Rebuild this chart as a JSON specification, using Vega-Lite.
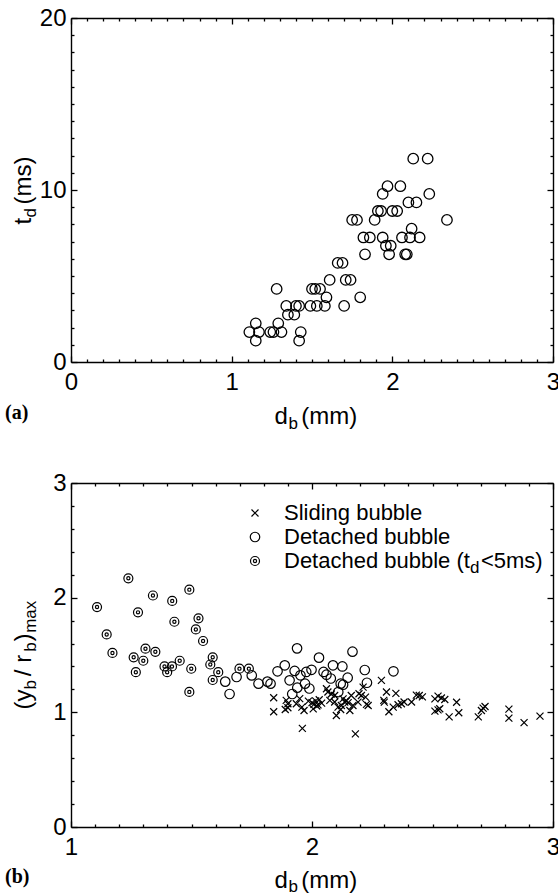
{
  "$schema": "https://vega.github.io/schema/vega-lite/v6.json",
  "padding": {"left": 5, "top": 6, "right": 0, "bottom": 0},
  "background": "white",
  "spacing": 40,
  "config": {
    "view": {"stroke": null},
    "font": "Liberation Sans",
    "axis": {
      "domainColor": "black", "domainWidth": 1.4, "tickColor": "black", "tickWidth": 1.3,
      "labelColor": "black", "titleColor": "black", "labelFont": "Liberation Sans", "titleFont": "Liberation Sans",
      "labelFontSize": 24, "titleFontSize": 24, "titleFontWeight": "normal", "grid": false,
      "labelOverlap": false, "labelFlush": false, "format": "d"
    }
  },
  "datasets": {
    "a": [
      {"db":1.11,"td":1.74},{"db":1.15,"td":2.25},{"db":1.17,"td":1.74},{"db":1.15,"td":1.24},{"db":1.24,"td":1.74},
      {"db":1.26,"td":1.74},{"db":1.31,"td":1.74},{"db":1.29,"td":2.25},{"db":1.28,"td":4.25},{"db":1.43,"td":1.74},
      {"db":1.42,"td":1.24},{"db":1.34,"td":3.26},{"db":1.40,"td":3.26},{"db":1.42,"td":3.26},{"db":1.35,"td":2.75},
      {"db":1.39,"td":2.75},{"db":1.49,"td":3.26},{"db":1.53,"td":3.26},{"db":1.58,"td":3.26},{"db":1.59,"td":3.76},
      {"db":1.50,"td":4.25},{"db":1.52,"td":4.25},{"db":1.55,"td":4.25},{"db":1.61,"td":4.77},{"db":1.70,"td":3.26},
      {"db":1.71,"td":4.77},{"db":1.74,"td":4.77},{"db":1.66,"td":5.76},{"db":1.69,"td":5.76},{"db":1.75,"td":8.26},
      {"db":1.78,"td":8.26},{"db":1.80,"td":3.76},{"db":1.82,"td":7.24},{"db":1.86,"td":7.24},{"db":1.83,"td":6.26},
      {"db":1.89,"td":8.26},{"db":1.91,"td":8.78},{"db":1.93,"td":8.78},{"db":1.94,"td":9.77},{"db":1.97,"td":10.22},
      {"db":1.94,"td":7.24},{"db":1.96,"td":6.76},{"db":1.99,"td":6.76},{"db":1.98,"td":6.26},{"db":2.00,"td":8.78},
      {"db":2.03,"td":8.78},{"db":2.05,"td":10.22},{"db":2.06,"td":7.24},{"db":2.08,"td":6.26},{"db":2.09,"td":6.26},
      {"db":2.10,"td":9.28},{"db":2.15,"td":9.28},{"db":2.12,"td":7.75},{"db":2.11,"td":7.24},{"db":2.17,"td":7.24},
      {"db":2.13,"td":11.82},{"db":2.22,"td":11.82},{"db":2.23,"td":9.77},{"db":2.34,"td":8.26}
    ],
    "b": [
      {"db":1.108,"yr":1.918,"type":"d5"},{"db":1.148,"yr":1.679,"type":"d5"},{"db":1.172,"yr":1.518,"type":"d5"},
      {"db":1.238,"yr":2.169,"type":"d5"},{"db":1.260,"yr":1.480,"type":"d5"},{"db":1.269,"yr":1.350,"type":"d5"},
      {"db":1.278,"yr":1.872,"type":"d5"},{"db":1.300,"yr":1.450,"type":"d5"},{"db":1.309,"yr":1.555,"type":"d5"},
      {"db":1.340,"yr":2.019,"type":"d5"},{"db":1.350,"yr":1.528,"type":"d5"},{"db":1.388,"yr":1.400,"type":"d5"},
      {"db":1.399,"yr":1.350,"type":"d5"},{"db":1.419,"yr":1.400,"type":"d5"},{"db":1.420,"yr":1.972,"type":"d5"},
      {"db":1.429,"yr":1.790,"type":"d5"},{"db":1.451,"yr":1.450,"type":"d5"},{"db":1.491,"yr":2.070,"type":"d5"},
      {"db":1.491,"yr":1.178,"type":"d5"},{"db":1.499,"yr":1.380,"type":"d5"},{"db":1.529,"yr":1.820,"type":"d5"},
      {"db":1.518,"yr":1.723,"type":"d5"},{"db":1.548,"yr":1.622,"type":"d5"},{"db":1.578,"yr":1.417,"type":"d5"},
      {"db":1.588,"yr":1.480,"type":"d5"},{"db":1.588,"yr":1.282,"type":"d5"},{"db":1.611,"yr":1.350,"type":"d5"},
      {"db":1.699,"yr":1.381,"type":"d5"},{"db":1.738,"yr":1.381,"type":"d5"},
      {"db":1.640,"yr":1.268,"type":"det"},{"db":1.658,"yr":1.160,"type":"det"},{"db":1.687,"yr":1.308,"type":"det"},
      {"db":1.750,"yr":1.322,"type":"det"},{"db":1.778,"yr":1.250,"type":"det"},{"db":1.815,"yr":1.268,"type":"det"},
      {"db":1.828,"yr":1.250,"type":"det"},{"db":1.857,"yr":1.358,"type":"det"},{"db":1.887,"yr":1.410,"type":"det"},
      {"db":1.907,"yr":1.279,"type":"det"},{"db":1.918,"yr":1.160,"type":"det"},{"db":1.928,"yr":1.361,"type":"det"},
      {"db":1.938,"yr":1.558,"type":"det"},{"db":1.939,"yr":1.215,"type":"det"},{"db":1.952,"yr":1.323,"type":"det"},
      {"db":1.971,"yr":1.250,"type":"det"},{"db":1.976,"yr":1.352,"type":"det"},{"db":1.989,"yr":1.208,"type":"det"},
      {"db":1.998,"yr":1.371,"type":"det"},{"db":2.029,"yr":1.477,"type":"det"},{"db":2.048,"yr":1.352,"type":"det"},
      {"db":2.060,"yr":1.328,"type":"det"},{"db":2.078,"yr":1.295,"type":"det"},{"db":2.087,"yr":1.410,"type":"det"},
      {"db":2.109,"yr":1.177,"type":"det"},{"db":2.119,"yr":1.250,"type":"det"},{"db":2.126,"yr":1.400,"type":"det"},
      {"db":2.129,"yr":1.241,"type":"det"},{"db":2.148,"yr":1.302,"type":"det"},{"db":2.168,"yr":1.529,"type":"det"},
      {"db":2.219,"yr":1.369,"type":"det"},{"db":2.228,"yr":1.258,"type":"det"},{"db":2.338,"yr":1.358,"type":"det"},
      {"db":1.841,"yr":1.127,"type":"sl"},{"db":1.841,"yr":1.005,"type":"sl"},{"db":1.893,"yr":1.104,"type":"sl"},
      {"db":1.900,"yr":1.075,"type":"sl"},{"db":1.889,"yr":1.025,"type":"sl"},{"db":1.900,"yr":1.040,"type":"sl"},
      {"db":1.935,"yr":1.075,"type":"sl"},{"db":1.949,"yr":1.119,"type":"sl"},{"db":1.958,"yr":1.046,"type":"sl"},
      {"db":1.967,"yr":1.016,"type":"sl"},{"db":1.960,"yr":0.860,"type":"sl"},{"db":1.985,"yr":1.098,"type":"sl"},
      {"db":2.000,"yr":1.085,"type":"sl"},{"db":2.008,"yr":1.070,"type":"sl"},{"db":2.015,"yr":1.100,"type":"sl"},
      {"db":2.020,"yr":1.055,"type":"sl"},{"db":2.005,"yr":1.030,"type":"sl"},{"db":2.030,"yr":1.110,"type":"sl"},
      {"db":2.040,"yr":1.080,"type":"sl"},{"db":2.025,"yr":1.065,"type":"sl"},{"db":2.060,"yr":1.206,"type":"sl"},
      {"db":2.066,"yr":1.177,"type":"sl"},{"db":2.074,"yr":1.104,"type":"sl"},{"db":2.080,"yr":1.160,"type":"sl"},
      {"db":2.094,"yr":1.090,"type":"sl"},{"db":2.101,"yr":0.972,"type":"sl"},{"db":2.108,"yr":1.046,"type":"sl"},
      {"db":2.094,"yr":1.147,"type":"sl"},{"db":2.122,"yr":1.060,"type":"sl"},{"db":2.129,"yr":1.118,"type":"sl"},
      {"db":2.136,"yr":1.090,"type":"sl"},{"db":2.143,"yr":1.100,"type":"sl"},{"db":2.150,"yr":1.085,"type":"sl"},
      {"db":2.157,"yr":1.016,"type":"sl"},{"db":2.163,"yr":1.147,"type":"sl"},{"db":2.170,"yr":1.060,"type":"sl"},
      {"db":2.119,"yr":1.025,"type":"sl"},{"db":2.180,"yr":0.812,"type":"sl"},{"db":2.191,"yr":1.089,"type":"sl"},
      {"db":2.195,"yr":1.162,"type":"sl"},{"db":2.205,"yr":1.147,"type":"sl"},{"db":2.212,"yr":1.220,"type":"sl"},
      {"db":2.222,"yr":1.133,"type":"sl"},{"db":2.226,"yr":1.069,"type":"sl"},{"db":2.233,"yr":1.060,"type":"sl"},
      {"db":2.288,"yr":1.279,"type":"sl"},{"db":2.298,"yr":1.104,"type":"sl"},{"db":2.300,"yr":1.089,"type":"sl"},
      {"db":2.309,"yr":1.177,"type":"sl"},{"db":2.319,"yr":1.005,"type":"sl"},{"db":2.337,"yr":1.046,"type":"sl"},
      {"db":2.348,"yr":1.165,"type":"sl"},{"db":2.357,"yr":1.066,"type":"sl"},{"db":2.371,"yr":1.075,"type":"sl"},
      {"db":2.382,"yr":1.090,"type":"sl"},{"db":2.413,"yr":1.090,"type":"sl"},{"db":2.433,"yr":1.150,"type":"sl"},
      {"db":2.445,"yr":1.147,"type":"sl"},{"db":2.458,"yr":1.135,"type":"sl"},{"db":2.510,"yr":1.118,"type":"sl"},
      {"db":2.523,"yr":1.142,"type":"sl"},{"db":2.537,"yr":1.125,"type":"sl"},{"db":2.551,"yr":1.112,"type":"sl"},
      {"db":2.510,"yr":1.011,"type":"sl"},{"db":2.523,"yr":1.022,"type":"sl"},{"db":2.530,"yr":1.031,"type":"sl"},
      {"db":2.569,"yr":0.960,"type":"sl"},{"db":2.600,"yr":1.088,"type":"sl"},{"db":2.609,"yr":0.996,"type":"sl"},
      {"db":2.690,"yr":0.960,"type":"sl"},{"db":2.703,"yr":1.016,"type":"sl"},{"db":2.710,"yr":1.037,"type":"sl"},
      {"db":2.718,"yr":1.051,"type":"sl"},{"db":2.817,"yr":1.028,"type":"sl"},{"db":2.817,"yr":0.949,"type":"sl"},
      {"db":2.880,"yr":0.910,"type":"sl"},{"db":2.946,"yr":0.967,"type":"sl"}
    ]
  },
  "vconcat": [
    {
      "width": 482, "height": 344,
      "title": {"text": "(a)", "orient": "bottom", "anchor": "start", "frame": "bounds", "font": "Liberation Serif", "fontWeight": "bold", "fontSize": 20, "color": "black", "offset": 0, "dx": -6, "dy": -28},
      "data": {"name": "a"},
      "resolve": {"axis": {"x": "independent", "y": "independent"}},
      "layer": [
        {
          "mark": {"type": "point", "shape": "circle", "size": 110, "strokeWidth": 1.3, "color": "black", "filled": false, "opacity": 1},
          "encoding": {
            "x": {"field": "db", "type": "quantitative", "scale": {"domain": [0, 3], "nice": false, "zero": false},
              "axis": {"orient": "bottom", "values": [0,0.1,0.2,0.3,0.4,0.5,0.6,0.7,0.8,0.9,1,1.1,1.2,1.3,1.4,1.5,1.6,1.7,1.8,1.9,2,2.1,2.2,2.3,2.4,2.5,2.6,2.7,2.8,2.9,3],
                "labelExpr": "abs(datum.value - round(datum.value)) < 0.001 ? datum.label : ''",
                "tickSize": {"condition": {"test": "abs(datum.value - round(datum.value)) < 0.001", "value": -6}, "value": -3},
                "labelPadding": 14,
                "title": "d\u00a0\u00a0(mm)", "titleX": 203, "titleY": 61, "titleAlign": "left", "titleBaseline": "alphabetic"}},
            "y": {"field": "td", "type": "quantitative", "scale": {"domain": [0, 20], "nice": false, "zero": false},
              "axis": {"orient": "left", "values": [0,1,2,3,4,5,6,7,8,9,10,11,12,13,14,15,16,17,18,19,20],
                "labelExpr": "datum.value % 10 === 0 ? datum.label : ''",
                "tickSize": {"condition": {"test": "datum.value % 10 === 0", "value": -6}, "value": -3},
                "labelPadding": 11,
                "title": "t\u00a0\u00a0(ms)", "titleAngle": 270, "titleX": -41, "titleY": 206, "titleAlign": "left", "titleBaseline": "alphabetic"}}
          }
        },
        {
          "mark": {"type": "point", "opacity": 0},
          "encoding": {
            "x": {"field": "db", "type": "quantitative",
              "axis": {"orient": "top", "values": [0,0.1,0.2,0.3,0.4,0.5,0.6,0.7,0.8,0.9,1,1.1,1.2,1.3,1.4,1.5,1.6,1.7,1.8,1.9,2,2.1,2.2,2.3,2.4,2.5,2.6,2.7,2.8,2.9,3],
                "labels": false,
                "tickSize": {"condition": {"test": "abs(datum.value - round(datum.value)) < 0.001", "value": -6}, "value": -3},
                "title": "b", "titleFontSize": 17, "titleX": 217, "titleY": 410, "titleAlign": "left", "titleBaseline": "alphabetic"}},
            "y": {"field": "td", "type": "quantitative",
              "axis": {"orient": "right", "values": [0,1,2,3,4,5,6,7,8,9,10,11,12,13,14,15,16,17,18,19,20],
                "labels": false,
                "tickSize": {"condition": {"test": "datum.value % 10 === 0", "value": -6}, "value": -3},
                "title": "d", "titleFontSize": 17, "titleAngle": 270, "titleX": -518, "titleY": 199, "titleAlign": "left", "titleBaseline": "alphabetic"}}
          }
        }
      ]
    },
    {
      "width": 482, "height": 344,
      "title": {"text": "(b)", "orient": "bottom", "anchor": "start", "frame": "bounds", "font": "Liberation Serif", "fontWeight": "bold", "fontSize": 20, "color": "black", "offset": 0, "dx": -6, "dy": -27},
      "data": {"name": "b"},
      "resolve": {"axis": {"x": "independent", "y": "independent"}},
      "layer": [
        {
          "mark": {"type": "point", "size": 100, "strokeWidth": 1.2, "filled": false, "opacity": 1},
          "encoding": {
            "x": {"field": "db", "type": "quantitative", "scale": {"domain": [1, 3], "nice": false, "zero": false},
              "axis": {"orient": "bottom", "values": [1,1.1,1.2,1.3,1.4,1.5,1.6,1.7,1.8,1.9,2,2.1,2.2,2.3,2.4,2.5,2.6,2.7,2.8,2.9,3],
                "labelExpr": "abs(datum.value - round(datum.value)) < 0.001 ? datum.label : ''",
                "tickSize": {"condition": {"test": "abs(datum.value - round(datum.value)) < 0.001", "value": -6}, "value": -3},
                "labelPadding": 14,
                "title": "d\u00a0\u00a0(mm)", "titleX": 203, "titleY": 60, "titleAlign": "left", "titleBaseline": "alphabetic"}},
            "y": {"field": "yr", "type": "quantitative", "scale": {"domain": [0, 3], "nice": false, "zero": false},
              "axis": {"orient": "left", "values": [0,0.2,0.4,0.6,0.8,1,1.2,1.4,1.6,1.8,2,2.2,2.4,2.6,2.8,3],
                "labelExpr": "abs(datum.value - round(datum.value)) < 0.001 ? datum.label : ''",
                "tickSize": {"condition": {"test": "abs(datum.value - round(datum.value)) < 0.001", "value": -6}, "value": -3},
                "labelPadding": 11,
                "title": "(y\u00a0\u00a0/\u00a0r\u00a0\u00a0)", "titleAngle": 270, "titleX": -41, "titleY": 226, "titleAlign": "left", "titleBaseline": "alphabetic"}},
            "shape": {"field": "type", "type": "nominal",
              "scale": {"domain": ["sl", "det", "d5"],
                "range": ["M-0.7,-0.7L0.7,0.7M-0.7,0.7L0.7,-0.7",
                          "M0.95,0A0.95,0.95,0,1,1,-0.95,0A0.95,0.95,0,1,1,0.95,0Z",
                          "M0.9,0A0.9,0.9,0,1,1,-0.9,0A0.9,0.9,0,1,1,0.9,0ZM0.32,0A0.32,0.32,0,1,1,-0.32,0A0.32,0.32,0,1,1,0.32,0Z"]},
              "legend": {"orient": "none", "legendX": 173, "legendY": 484, "title": null, "padding": 0, "rowPadding": 2,
                "labelFont": "Liberation Sans", "labelFontSize": 22, "labelColor": "black", "labelLimit": 500, "labelOffset": 18,
                "symbolSize": 100, "symbolStrokeColor": "black", "symbolFillColor": "transparent", "symbolStrokeWidth": 1.2,
                "labelExpr": "datum.value === 'sl' ? 'Sliding bubble' : datum.value === 'det' ? 'Detached bubble' : 'Detached bubble (t\u2002<5ms)'"}},
            "color": {"datum": "d", "type": "nominal", "scale": {"range": ["black"]},
              "legend": {"orient": "none", "legendX": 382, "legendY": 541, "title": null, "padding": 0,
                "labelFont": "Liberation Sans", "labelFontSize": 17, "labelColor": "black", "labelOffset": 0,
                "symbolOpacity": 0, "symbolSize": 1, "symbolStrokeWidth": 0}}
          }
        },
        {
          "mark": {"type": "point", "opacity": 0},
          "encoding": {
            "x": {"field": "db", "type": "quantitative",
              "axis": {"orient": "top", "values": [1,1.1,1.2,1.3,1.4,1.5,1.6,1.7,1.8,1.9,2,2.1,2.2,2.3,2.4,2.5,2.6,2.7,2.8,2.9,3],
                "labels": false,
                "tickSize": {"condition": {"test": "abs(datum.value - round(datum.value)) < 0.001", "value": -6}, "value": -3},
                "title": "b", "titleFontSize": 17, "titleX": 217, "titleY": 408, "titleAlign": "left", "titleBaseline": "alphabetic"}},
            "y": {"field": "yr", "type": "quantitative",
              "axis": {"orient": "right", "values": [0,0.2,0.4,0.6,0.8,1,1.2,1.4,1.6,1.8,2,2.2,2.4,2.6,2.8,3],
                "labels": false,
                "tickSize": {"condition": {"test": "abs(datum.value - round(datum.value)) < 0.001", "value": -6}, "value": -3},
                "title": "b\u00a0\u00a0\u00a0\u00a0\u00a0\u00a0b\u00a0\u00a0max", "titleFontSize": 17, "titleAngle": 270, "titleX": -518, "titleY": 206, "titleAlign": "left", "titleBaseline": "alphabetic"}}
          }
        }
      ]
    }
  ]
}
